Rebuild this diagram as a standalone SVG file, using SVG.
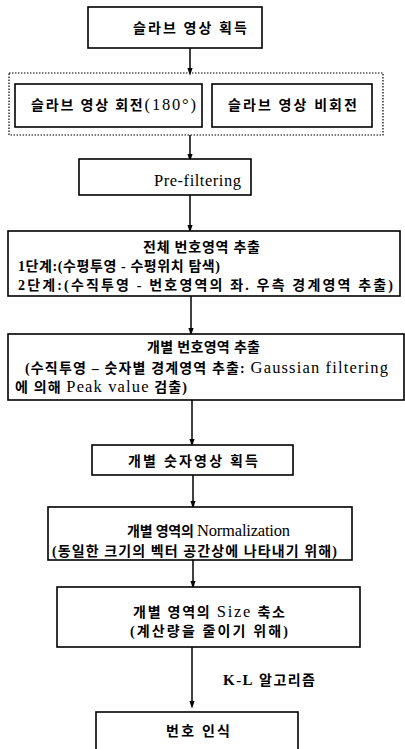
<svg xmlns="http://www.w3.org/2000/svg" width="405" height="749" viewBox="0 0 405 749">
<style>
.box{fill:#fff;stroke:#000;stroke-width:1.6}
.dot{fill:none;stroke:#000;stroke-width:1.2;stroke-dasharray:1.5 1.5}
.t{font-family:"Liberation Serif","Noto Sans CJK KR",serif;font-size:14px;font-weight:bold;fill:#000}
.l{font-size:16.5px;font-weight:normal}
.c{text-anchor:middle}
.ln{stroke:#000;stroke-width:1.5;fill:none}
</style>
<defs>
<marker id="ah" markerWidth="8" markerHeight="12" refX="8" refY="4" orient="auto" markerUnits="userSpaceOnUse" viewBox="0 0 12 8">
<path d="M0,0 L12,4 L0,8 Z" fill="#000"/>
</marker>
</defs>
<g id="connectors">
<line class="ln" x1="190" y1="48" x2="190" y2="73" marker-end="url(#ah)"/>
<line class="ln" x1="190" y1="135" x2="190" y2="159" marker-end="url(#ah)"/>
<line class="ln" x1="190" y1="195" x2="190" y2="230" marker-end="url(#ah)"/>
<line class="ln" x1="191" y1="296" x2="191" y2="333" marker-end="url(#ah)"/>
<line class="ln" x1="192" y1="400" x2="192" y2="444" marker-end="url(#ah)"/>
<line class="ln" x1="193" y1="475" x2="193" y2="506" marker-end="url(#ah)"/>
<line class="ln" x1="193" y1="560" x2="193" y2="586" marker-end="url(#ah)"/>
<line class="ln" x1="192" y1="647" x2="192" y2="706" marker-end="url(#ah)"/>
<text class="t" x="223" y="685" textLength="92"><tspan font-size="15">K-L</tspan> 알고리즘</text>
</g>
<g id="n1">
<rect class="box" x="88" y="7" width="174" height="41" stroke-width="2"/>
<text class="t c" x="190" y="33" textLength="114">슬라브 영상 획득</text>
</g>
<g id="grp">
<rect class="dot" x="9" y="73" width="374" height="62"/>
</g>
<g id="n2">
<rect class="box" x="15" y="84" width="187" height="43"/>
<text class="t c" x="113.5" y="110" textLength="165">슬라브 영상 회전<tspan class="l">(180°)</tspan></text>
</g>
<g id="n3">
<rect class="box" x="212" y="84" width="160" height="43"/>
<text class="t c" x="292.5" y="110" textLength="129">슬라브 영상 비회전</text>
</g>
<g id="n4">
<rect class="box" x="79" y="159" width="172" height="36"/>
<text class="t" x="154" y="186" textLength="87"><tspan class="l" font-size="17.5">Pre-filtering</tspan></text>
</g>
<g id="n5">
<rect class="box" x="8" y="231" width="392" height="65"/>
<text class="t c" x="201.5" y="252" textLength="117">전체 번호영역 추출</text>
<text class="t" x="18" y="271" textLength="202">1단계:(수평투영 - 수평위치 탐색)</text>
<text class="t" x="18" y="290" textLength="375">2단계:(수직투영 - 번호영역의 좌. 우측 경계영역 추출)</text>
</g>
<g id="n6">
<rect class="box" x="8" y="334" width="396" height="66"/>
<text class="t c" x="203.5" y="352" textLength="113">개별 번호영역 추출</text>
<text class="t" x="25" y="373" textLength="363">(수직투영 – 숫자별 경계영역 추출: <tspan class="l">Gaussian filtering</tspan></text>
<text class="t" x="15" y="392" textLength="172">에 의해 <tspan class="l">Peak value</tspan> 검출)</text>
</g>
<g id="n7">
<rect class="box" x="92" y="445" width="201" height="30"/>
<text class="t c" x="193" y="466" textLength="130">개별 숫자영상 획득</text>
</g>
<g id="n8">
<rect class="box" x="48" y="507" width="304" height="53"/>
<text class="t" x="127" y="536" textLength="163">개별 영역의 <tspan class="l">Normalization</tspan></text>
<text class="t" x="52" y="556" textLength="285">(동일한 크기의 벡터 공간상에 나타내기 위해)</text>
</g>
<g id="n9">
<rect class="box" x="57" y="587" width="303" height="60"/>
<text class="t" x="133" y="617" textLength="152">개별 영역의 <tspan class="l">Size</tspan> 축소</text>
<text class="t" x="130" y="636" textLength="158">(계산량을 줄이기 위해)</text>
</g>
<g id="n10">
<rect class="box" x="96" y="712" width="202" height="45"/>
<text class="t" x="166" y="736" textLength="64">번호 인식</text>
</g>
</svg>
